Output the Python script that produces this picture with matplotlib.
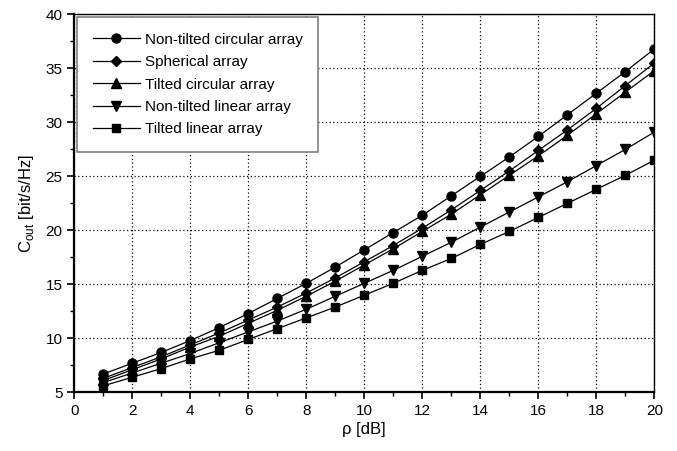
import matplotlib
matplotlib.use("Agg")
import matplotlib.pyplot as plt
from matplotlib.ticker import MultipleLocator

plt.rcParams['font.family'] = ['Liberation Sans', 'DejaVu Sans']
plt.rcParams['mathtext.fontset'] = 'custom'
plt.rcParams['mathtext.rm'] = 'Liberation Sans'

rho = list(range(1, 21))
circ_nt = [6.7, 7.7, 8.7, 9.8, 11.0, 12.3, 13.7, 15.1, 16.6, 18.2, 19.8, 21.4, 23.2, 25.0, 26.8, 28.7, 30.7, 32.7, 34.7, 36.8]
spher = [6.3, 7.3, 8.3, 9.4, 10.5, 11.7, 12.9, 14.2, 15.6, 17.1, 18.6, 20.2, 21.9, 23.7, 25.5, 27.4, 29.3, 31.3, 33.4, 35.5]
circ_t = [6.1, 7.1, 8.1, 9.2, 10.2, 11.4, 12.6, 13.9, 15.3, 16.8, 18.3, 19.9, 21.5, 23.3, 25.1, 26.9, 28.8, 30.8, 32.8, 34.8]
lin_nt = [5.9, 6.8, 7.7, 8.6, 9.6, 10.6, 11.6, 12.7, 13.9, 15.1, 16.3, 17.6, 18.9, 20.3, 21.7, 23.1, 24.5, 26.0, 27.5, 29.1]
lin_t = [5.6, 6.4, 7.2, 8.1, 8.9, 9.9, 10.9, 11.9, 12.9, 14.0, 15.1, 16.3, 17.4, 18.7, 19.9, 21.2, 22.5, 23.8, 25.1, 26.5]

series = [
    ("Non-tilted circular array", circ_nt, 'o', 6.5),
    ("Spherical array", spher, 'D', 5.0),
    ("Tilted circular array", circ_t, '^', 6.5),
    ("Non-tilted linear array", lin_nt, 'v', 6.5),
    ("Tilted linear array", lin_t, 's', 5.5),
]

fig = plt.figure(figsize=(6.77, 4.51), dpi=100)
ax = fig.add_axes([0.1097, 0.130, 0.8568, 0.838])

for label, vals, m, ms in series:
    ax.plot(rho, vals, color='black', lw=0.9, marker=m, markersize=ms,
            markerfacecolor='black', markeredgecolor='black', label=label)

ax.set_xlim(0, 20)
ax.set_ylim(5, 40)
ax.xaxis.set_major_locator(MultipleLocator(2))
ax.xaxis.set_minor_locator(MultipleLocator(1))
ax.yaxis.set_major_locator(MultipleLocator(5))
ax.yaxis.set_minor_locator(MultipleLocator(2.5))
ax.tick_params(which='both', top=False, right=False)
ax.tick_params(which='major', direction='out', length=5, width=1.2, labelsize=11)
ax.tick_params(which='minor', direction='out', length=3, width=1.0)
ax.grid(True, which='major', linestyle=(0, (1, 2)), color='black', lw=0.9)

for s in ['top', 'right']:
    ax.spines[s].set_linewidth(1.0)
for s in ['left', 'bottom']:
    ax.spines[s].set_linewidth(1.6)

ax.set_xlabel("ρ [dB]", fontsize=12, labelpad=3)
ax.set_ylabel(r"C$_\mathregular{out}$ [bit/s/Hz]", fontsize=12, labelpad=7)

leg = ax.legend(loc='upper left', fontsize=11, handlelength=3.1, labelspacing=0.55,
                fancybox=False, edgecolor='gray', framealpha=1, borderaxespad=0.15,
                handletextpad=0.3, borderpad=1.05)
leg.get_frame().set_linewidth(1.2)

fig.savefig("out.png", dpi=100)
